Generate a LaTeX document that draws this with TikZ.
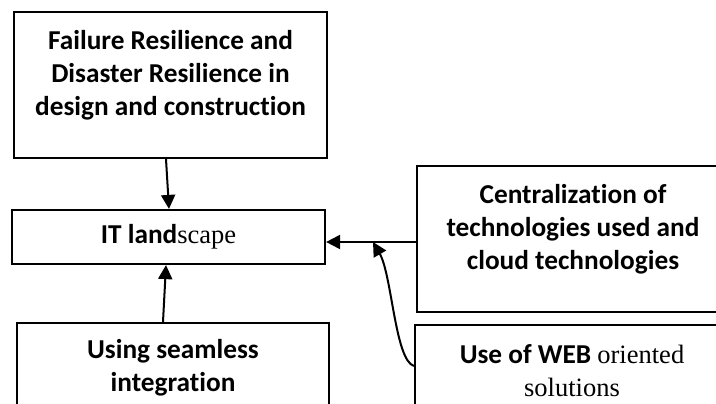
\documentclass[tikz,border=0pt]{standalone}
\usepackage{fontspec}
\setmainfont{Liberation Serif}
\newfontfamily\calibri[Ligatures=NoCommon]{Carlito}
\newcommand\plain[1]{{\normalfont\fontsize{26.5}{33}\selectfont #1}}
\usetikzlibrary{arrows.meta}

\tikzset{
  block/.style={draw=black, line width=2.2pt, align=center, inner sep=0pt,
    font=\calibri\bfseries\fontsize{27.3}{33}\selectfont},
  link/.style={line width=2pt, -{Triangle[length=14pt,width=14pt]}}
}

\begin{document}
\begin{tikzpicture}[x=1pt,y=-1pt]
    \useasboundingbox (0,0) rectangle (716,404);
    \clip (0,0) rectangle (716,404);

    \node[block, minimum width=313pt, minimum height=146pt, text depth=25pt] (fail) at (170.5,85)
        {Failure Resilience and\\Disaster Resilience in\\design and construction};
    \node[block, minimum width=313pt, minimum height=54pt] (it) at (168.5,237)
        {IT land\plain{scape}};
    \node[block, minimum width=312pt, minimum height=90pt] (seam) at (173,368)
        {Using seamless\\integration};
    \node[block, minimum width=312pt, minimum height=146pt, text depth=25pt] (cent) at (573,239)
        {Centralization of\\technologies used and\\cloud technologies};
    \node[block, minimum width=314pt, minimum height=92pt] (web) at (572,371)
        {Use of WEB \plain{oriented}\\\plain{solutions}};

    \draw[link] ([xshift=-4.5pt]fail.south) -- ([xshift=0.5pt]it.north);
    \draw[link] ([xshift=-10pt]seam.north) -- ([xshift=-2.5pt]it.south);
    \draw[link] ([yshift=-3pt]cent.west) -- ([yshift=-5pt]it.east);

    % curved feed into the horizontal line
    \coordinate (join) at (373,242);
    \draw[link] ([yshift=5pt]web.west) .. controls (395,360) and (392,275) .. (join);
\end{tikzpicture}
\end{document}
